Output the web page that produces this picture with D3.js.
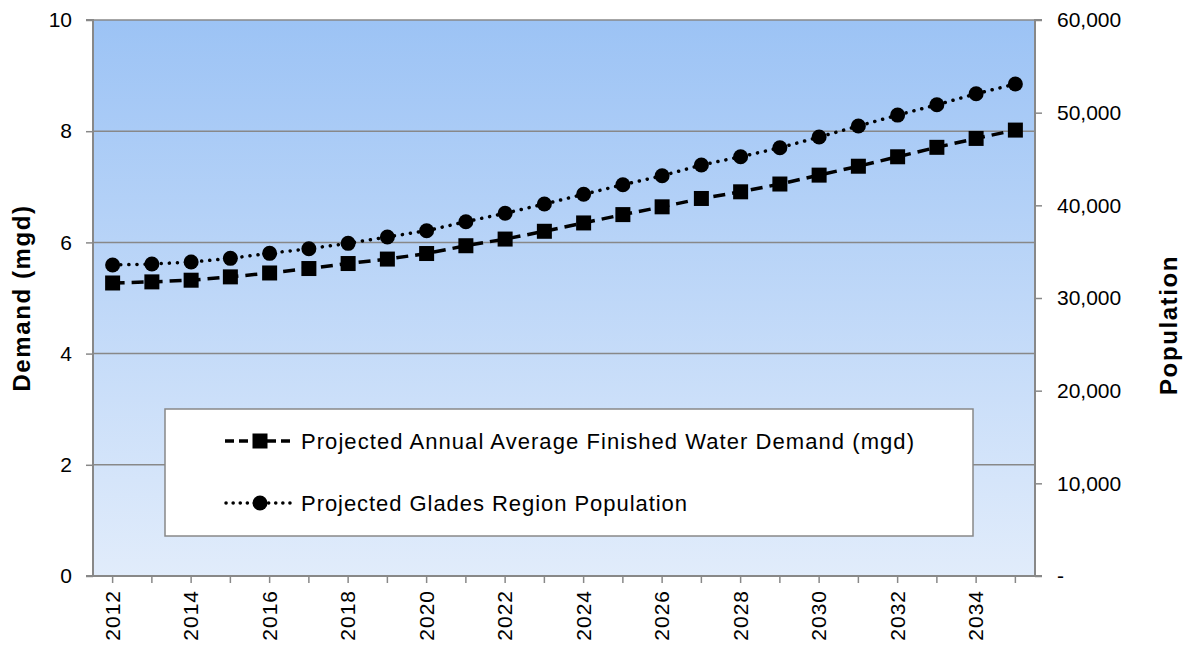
<!DOCTYPE html>
<html>
<head>
<meta charset="utf-8">
<script src="https://cdn.jsdelivr.net/npm/d3@7"></script>
<style>
  body { margin: 0; background: #fff; }
  text { font-family: "Liberation Sans", Arial, sans-serif; }
</style>
</head>
<body>
<svg id="chart" width="1189" height="646"></svg>
<script>
// Data
const years = d3.range(2012, 2036);
const demand = [5.27, 5.29, 5.32, 5.38, 5.45, 5.53, 5.62, 5.70, 5.80, 5.94, 6.06, 6.20,
                6.35, 6.50, 6.64, 6.79, 6.91, 7.05, 7.21, 7.37, 7.54, 7.71, 7.87, 8.02];
const population = [33560, 33670, 33880, 34280, 34820, 35320, 35900, 36580, 37260, 38230, 39140, 40140,
                     41190, 42220, 43190, 44350, 45240, 46210, 47370, 48560, 49740, 50850, 52040, 53090];
const leftTicks = [0, 2, 4, 6, 8, 10];
const rightTicks = [0, 10000, 20000, 30000, 40000, 50000, 60000];
const seriesNames = ["Projected Annual Average Finished Water Demand (mgd)", "Projected Glades Region Population"];

const svg = d3.select("#chart");
const plot = { left: 93, right: 1035, top: 20, bottom: 576 };

const x = d3.scaleBand().domain(years).range([plot.left, plot.right]);
const yL = d3.scaleLinear().domain([0, 10]).range([plot.bottom, plot.top]);
const yR = d3.scaleLinear().domain([0, 60000]).range([plot.bottom, plot.top]);
const cx = d => x(d) + x.bandwidth() / 2;

// Background gradient
const grad = svg.append("defs").append("linearGradient")
    .attr("id", "bg").attr("x1", 0).attr("y1", 0).attr("x2", 0).attr("y2", 1);
grad.append("stop").attr("offset", "0%").attr("stop-color", "#9cc3f5");
grad.append("stop").attr("offset", "100%").attr("stop-color", "#e1ecfb");

svg.append("rect")
    .attr("x", plot.left).attr("y", plot.top)
    .attr("width", plot.right - plot.left).attr("height", plot.bottom - plot.top)
    .attr("fill", "url(#bg)");

// Gridlines
svg.append("g").selectAll("line").data(leftTicks.filter(d => d > 0)).join("line")
    .attr("x1", plot.left).attr("x2", plot.right)
    .attr("y1", d => yL(d)).attr("y2", d => yL(d))
    .attr("stroke", "#888").attr("stroke-width", 1.5);

// Axes
const axisColor = "#888";
const leftAxis = svg.append("g").attr("transform", `translate(${plot.left},0)`)
    .call(d3.axisLeft(yL).tickValues(leftTicks).tickSize(7).tickPadding(14));
const rightAxis = svg.append("g").attr("transform", `translate(${plot.right},0)`)
    .call(d3.axisRight(yR).tickValues(rightTicks).tickSize(7).tickPadding(15)
        .tickFormat(d => d === 0 ? "-" : d3.format(",")(d)));
const bottomAxis = svg.append("g").attr("transform", `translate(0,${plot.bottom})`)
    .call(d3.axisBottom(x).tickSize(7).tickFormat(d => d % 2 === 0 ? d : ""));

[leftAxis, rightAxis, bottomAxis].forEach(g => {
    g.select(".domain").attr("stroke", axisColor).attr("stroke-width", 2);
    g.selectAll(".tick line").attr("stroke", axisColor).attr("stroke-width", 1.5);
    g.selectAll(".tick text").attr("fill", "#000").style("font-size", "21px");
});
leftAxis.select(".domain").attr("d", `M-7,${plot.top}H0V${plot.bottom}H-7`);
rightAxis.select(".domain").attr("d", `M7,${plot.top}H0V${plot.bottom}H7`);
bottomAxis.select(".domain").attr("d", `M${plot.left},0H${plot.right}`);
rightAxis.selectAll(".tick text").attr("text-anchor", "start");

bottomAxis.selectAll(".tick text")
    .attr("transform", "rotate(-90)")
    .attr("text-anchor", "end")
    .attr("x", -14).attr("y", 0).attr("dy", "0.35em")
    .style("letter-spacing", "1px");

// Axis titles
svg.append("text")
    .attr("transform", "translate(30,298) rotate(-90)")
    .attr("text-anchor", "middle")
    .style("font-size", "24px").style("font-weight", "bold")
    .style("letter-spacing", "1.6px")
    .text("Demand (mgd)");
svg.append("text")
    .attr("transform", "translate(1177,325) rotate(-90)")
    .attr("text-anchor", "middle")
    .style("font-size", "24px").style("font-weight", "bold")
    .style("letter-spacing", "1.6px")
    .text("Population");

// Lines
const demandLine = d3.line().x((d, i) => cx(years[i])).y(d => yL(d));
const popLine = d3.line().x((d, i) => cx(years[i])).y(d => yR(d));

svg.append("path").datum(population)
    .attr("d", popLine).attr("fill", "none")
    .attr("stroke", "#000").attr("stroke-width", 3.5)
    .attr("stroke-linecap", "round").attr("stroke-dasharray", "0.1 8");
svg.append("g").selectAll("circle").data(population).join("circle")
    .attr("cx", (d, i) => cx(years[i])).attr("cy", d => yR(d)).attr("r", 7.5).attr("fill", "#000");

svg.append("path").datum(demand)
    .attr("d", demandLine).attr("fill", "none")
    .attr("stroke", "#000").attr("stroke-width", 3.5)
    .attr("stroke-dasharray", "12 7");
svg.append("g").selectAll("rect").data(demand).join("rect")
    .attr("x", (d, i) => cx(years[i]) - 7.5).attr("y", d => yL(d) - 7.5)
    .attr("width", 15).attr("height", 15).attr("fill", "#000");

// Legend
const legend = svg.append("g");
legend.append("rect")
    .attr("x", 165).attr("y", 409).attr("width", 808).attr("height", 127)
    .attr("fill", "#fff").attr("stroke", "#888").attr("stroke-width", 1.5);
const rows = [441, 503];
const textLengths = [613, 386];
rows.forEach((ry, i) => {
    const g = legend.append("g");
    if (i === 0) {
        g.append("line").attr("x1", 225).attr("x2", 295).attr("y1", ry).attr("y2", ry)
            .attr("stroke", "#000").attr("stroke-width", 3.5).attr("stroke-dasharray", "9 5");
        g.append("rect").attr("x", 252.5).attr("y", ry - 7.5).attr("width", 15).attr("height", 15).attr("fill", "#000");
    } else {
        g.append("line").attr("x1", 226).attr("x2", 295).attr("y1", ry).attr("y2", ry)
            .attr("stroke", "#000").attr("stroke-width", 3.5)
            .attr("stroke-linecap", "round").attr("stroke-dasharray", "0.1 7");
        g.append("circle").attr("cx", 260).attr("cy", ry).attr("r", 7.5).attr("fill", "#000");
    }
    g.append("text").attr("x", 301).attr("y", ry).attr("dy", "0.35em")
        .attr("textLength", textLengths[i]).attr("lengthAdjust", "spacing")
        .style("font-size", "22px").text(seriesNames[i]);
});
</script>
</body>
</html>
